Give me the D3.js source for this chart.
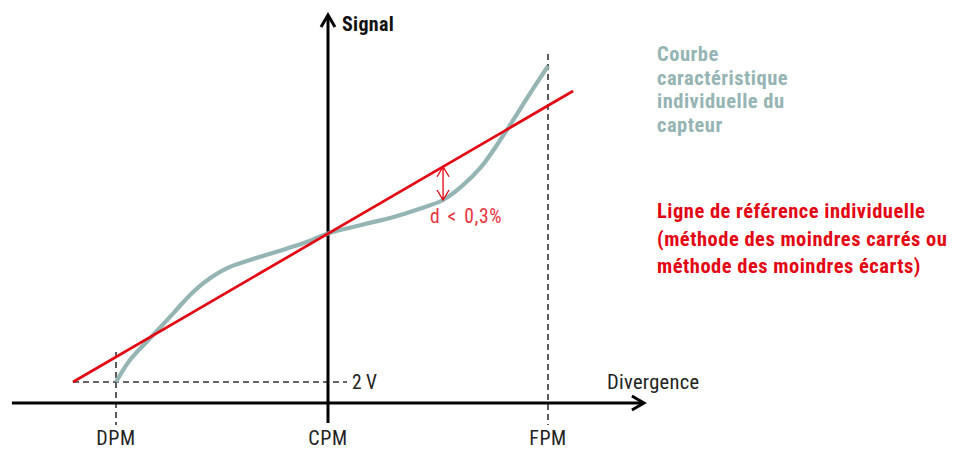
<!DOCTYPE html>
<html>
<head>
<meta charset="utf-8">
<script src="https://cdn.jsdelivr.net/npm/d3@7"></script>
<style>
  html, body { margin: 0; padding: 0; background: #fff; }
  svg { display: block; }
  text { font-family: "Liberation Sans Narrow", "Roboto Condensed", "DejaVu Sans Condensed", "Liberation Sans", sans-serif; }
</style>
</head>
<body>
<svg id="chart" width="953" height="450"></svg>
<script>
// ---- data ----
const categories = ["DPM", "CPM", "FPM"];
const categoryX = [-1, 0, 1];
const curveX = [-1, -0.934, -0.832, -0.730, -0.635, -0.557, -0.478, -0.368, -0.242, -0.117, 0, 0.151, 0.303, 0.424, 0.523, 0.606, 0.697, 0.818, 0.909, 1];
const curveY = [2.0, 2.557, 3.147, 3.739, 4.286, 4.625, 4.878, 5.089, 5.299, 5.511, 5.759, 5.975, 6.185, 6.397, 6.608, 6.944, 7.451, 8.423, 9.223, 10.0];
const refLineX = [-1.203, 1.114];
const refLineY = [2.0, 9.367];
const deviationX = [0.523];
const deviationY = [7.45, 6.608];
const yTickValue = [2];
const yTickLabel = ["2 V"];
const axisOriginY = [1.468];
const xAxisExtent = [-1.491, 1.436];
const yAxisExtent = [0.962, 11.29];
const curveLegend = ["Courbe", "caractéristique", "individuelle du", "capteur"];
const refLegend = ["Ligne de référence individuelle", "(méthode des moindres carrés ou", "méthode des moindres écarts)"];
const deviationLabel = ["d < 0,3%"];
const axisTitles = ["Signal", "Divergence"];

// ---- scales ----
const x = d3.scaleLinear().domain([-1, 0, 1]).range([116, 328, 548]);
const y = d3.scaleLinear().domain([2, 10]).range([382, 66]);

const svg = d3.select("#chart");
const GRAY = "#95b4b4", RED = "#e30613", BLACK = "#000", DASH = "#333";

const x0 = x(0), yAxisPix = y(axisOriginY[0]);

// dashed guides
const g = svg.append("g");
g.append("line").attr("x1", x(-1)).attr("x2", x(-1))
  .attr("y1", y(refLineY[0]) - 30).attr("y2", yAxisPix + 22)
  .attr("stroke", DASH).attr("stroke-width", 1.6).attr("stroke-dasharray", "6,4");
g.append("line").attr("x1", x(1)).attr("x2", x(1))
  .attr("y1", y(10) - 12).attr("y2", yAxisPix + 22)
  .attr("stroke", DASH).attr("stroke-width", 1.6).attr("stroke-dasharray", "6,4");
g.append("line").attr("x1", x(refLineX[0])).attr("x2", x0 + 19)
  .attr("y1", y(yTickValue[0])).attr("y2", y(yTickValue[0]))
  .attr("stroke", DASH).attr("stroke-width", 1.6).attr("stroke-dasharray", "6,4");

// axes
svg.append("line").attr("x1", x(xAxisExtent[0])).attr("x2", x(xAxisExtent[1]) - 2)
  .attr("y1", yAxisPix).attr("y2", yAxisPix).attr("stroke", BLACK).attr("stroke-width", 3);
svg.append("line").attr("x1", x0).attr("x2", x0)
  .attr("y1", y(yAxisExtent[0])).attr("y2", y(yAxisExtent[1]) + 2).attr("stroke", BLACK).attr("stroke-width", 3);
const xt = x(xAxisExtent[1]);
svg.append("path").attr("d", `M${xt - 12},${yAxisPix - 7} L${xt},${yAxisPix} L${xt - 12},${yAxisPix + 7}`)
  .attr("fill", "none").attr("stroke", BLACK).attr("stroke-width", 3).attr("stroke-linejoin", "miter");
const yt = y(yAxisExtent[1]);
svg.append("path").attr("d", `M${x0 - 7},${yt + 12} L${x0},${yt} L${x0 + 7},${yt + 12}`)
  .attr("fill", "none").attr("stroke", BLACK).attr("stroke-width", 3).attr("stroke-linejoin", "miter");

// curve
const curvePts = curveX.map((v, i) => [v, curveY[i]]);
svg.append("path").datum(curvePts)
  .attr("d", d3.line().x(d => x(d[0])).y(d => y(d[1])).curve(d3.curveCatmullRom.alpha(0.5)))
  .attr("fill", "none").attr("stroke", GRAY).attr("stroke-width", 4.2).attr("stroke-linecap", "butt");

// reference line
const refPts = refLineX.map((v, i) => [v, refLineY[i]]);
svg.append("path").datum(refPts)
  .attr("d", d3.line().x(d => x(d[0])).y(d => y(d[1])))
  .attr("fill", "none").attr("stroke", RED).attr("stroke-width", 2.7);

// deviation arrow
const ax = x(deviationX[0]), ay1 = y(deviationY[0]), ay2 = y(deviationY[1]);
svg.append("path")
  .attr("d", `M${ax},${ay1} L${ax},${ay2} M${ax - 6},${ay1 + 10} L${ax},${ay1} L${ax + 6},${ay1 + 10} M${ax - 6},${ay2 - 10} L${ax},${ay2} L${ax + 6},${ay2 - 10}`)
  .attr("fill", "none").attr("stroke", RED).attr("stroke-width", 1.3);
svg.append("text").attr("x", ax - 13).attr("y", ay2 + 23)
  .attr("fill", "#e8323a").attr("font-size", 19.5).attr("letter-spacing", 0.7).attr("word-spacing", 2).text(deviationLabel[0]);

// tick labels
svg.selectAll(".cat").data(categories).enter().append("text")
  .attr("x", (d, i) => x(categoryX[i])).attr("y", yAxisPix + 42)
  .attr("text-anchor", "middle").attr("font-size", 20).attr("letter-spacing", 0.6).attr("fill", "#222").text(d => d);
svg.append("text").attr("x", x0 + 24).attr("y", y(yTickValue[0]) + 7)
  .attr("font-size", 19.5).attr("fill", "#222").text(yTickLabel[0]);

// axis titles
svg.append("text").attr("x", x0 + 14).attr("y", 31).attr("font-size", 20).attr("letter-spacing", 0.3).attr("font-weight", "bold")
  .attr("fill", "#111").text(axisTitles[0]);
svg.append("text").attr("x", 607).attr("y", yAxisPix - 14).attr("font-size", 20.5).attr("letter-spacing", 0.3)
  .attr("fill", "#222").text(axisTitles[1]);

// legends
svg.selectAll(".lg1").data(curveLegend).enter().append("text")
  .attr("x", 657).attr("y", (d, i) => 61 + i * 23.5)
  .attr("font-size", 20.5).attr("letter-spacing", 0.5).attr("font-weight", "bold").attr("fill", GRAY).text(d => d);
svg.selectAll(".lg2").data(refLegend).enter().append("text")
  .attr("x", 657).attr("y", (d, i) => 218 + i * 27.5)
  .attr("font-size", 20.5).attr("letter-spacing", 0.5).attr("font-weight", "bold").attr("fill", RED).text(d => d);
</script>
</body>
</html>
